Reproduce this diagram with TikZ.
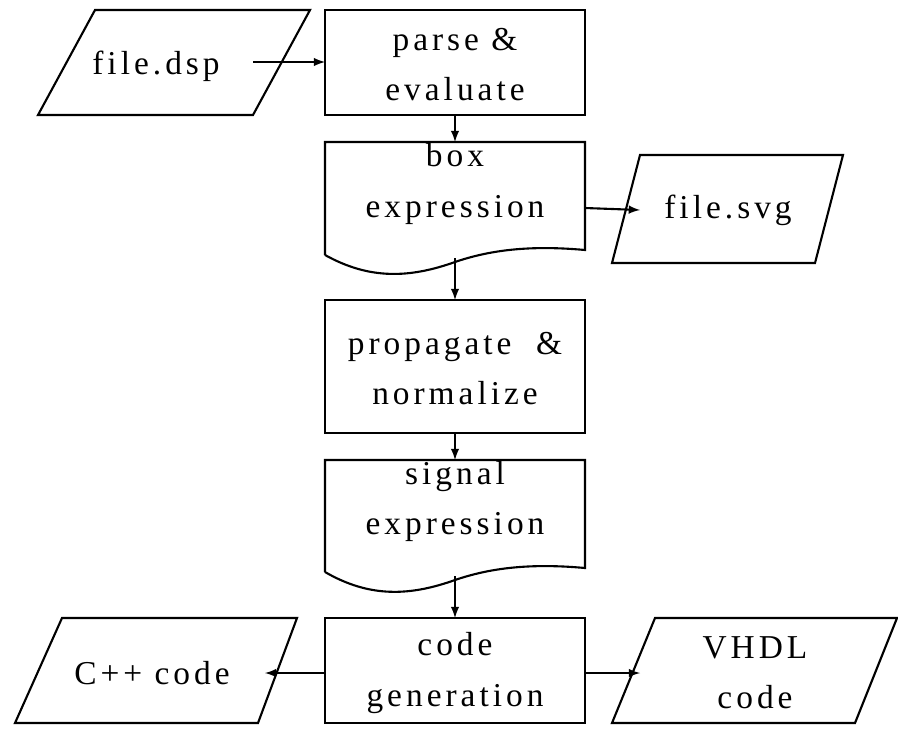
\documentclass[tikz,border=0pt]{standalone}
\usepackage{fontspec}
\setmainfont[LetterSpace=12]{Liberation Serif}
\usetikzlibrary{arrows}
\begin{document}
\begin{tikzpicture}[x=0.02cm,y=-0.02cm,>=latex,
  lbl/.style={align=center,font=\fontsize{19}{28.5}\selectfont,inner sep=0pt},
  box/.style={draw,line width=1.2pt},
  link/.style={->,line width=1.2pt}]
\useasboundingbox (0,0) rectangle (898,744);

    % inputs and outputs
    \draw[box] (95,10) -- (310,10) -- (253,115) -- (38,115) -- cycle;
    \draw[box] (640,155) -- (843,155) -- (815,263) -- (612,263) -- cycle;
    \draw[box] (62,618) -- (297,618) -- (258,723) -- (15,723) -- cycle;
    \draw[box] (655,618) -- (897,618) -- (855,723) -- (612,723) -- cycle;
    \node[lbl] (dsp) at (156,66) {file.dsp};
    \node[lbl] (svg) at (728,210) {file.svg};
    \node[lbl] (cpp) at (152,673) {C++ code};
    \node[lbl] (vhdl) at (755,673) {VHDL\\code};
    \coordinate (dspR) at (253,62);
    \coordinate (svgL) at (640,210);
    \coordinate (cppR) at (265,673);
    \coordinate (vhdlL) at (640,673);

    % processing steps
    \draw[box] (325,10) rectangle (585,115);
    \draw[box] (325,300) rectangle (585,433);
    \draw[box] (325,618) rectangle (585,723);
    \draw[box] (325,255) -- (325,142) -- (585,142) -- (585,250)
      .. controls (530,245) and (490,250) .. (455,262)
      .. controls (410,278) and (370,280) .. (325,255);
    \draw[box] (325,572) -- (325,460) -- (585,460) -- (585,568)
      .. controls (530,563) and (490,568) .. (455,580)
      .. controls (410,596) and (370,598) .. (325,572);
    \node[lbl] (parse) at (455,65) {parse \&\\evaluate};
    \node[lbl] (boxexp) at (455,184) {box\\expression};
    \node[lbl] (prop) at (455,369) {propagate \ \&\\normalize};
    \node[lbl] (sig) at (455,501) {signal\\expression};
    \node[lbl] (gen) at (455,673) {code\\generation};

    % connections
    \draw[link] (dspR) -- (325,62);
    \draw[link] (455,115) -- (455,142);
    \draw[link] (585,208) -- (svgL);
    \draw[link] (455,258) -- (455,300);
    \draw[link] (455,433) -- (455,460);
    \draw[link] (455,576) -- (455,618);
    \draw[link] (325,673) -- (cppR);
    \draw[link] (585,673) -- (vhdlL);

\end{tikzpicture}
\end{document}
